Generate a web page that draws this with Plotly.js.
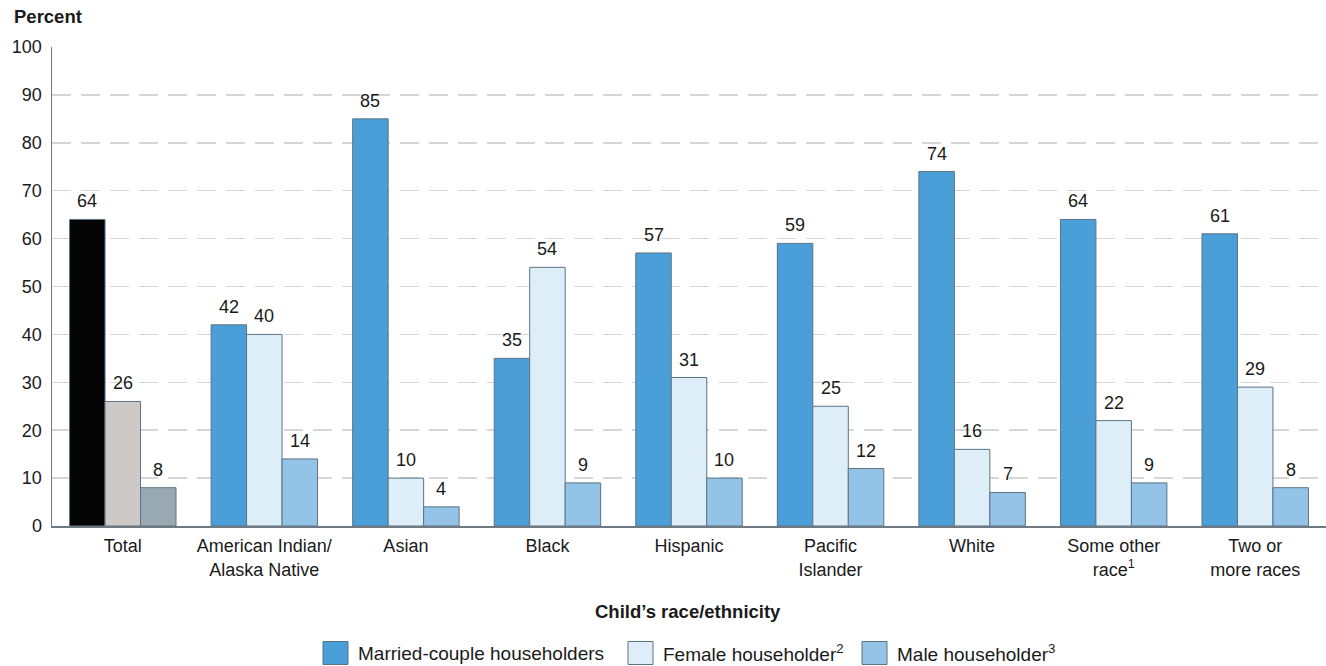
<!DOCTYPE html>
<html>
<head>
<meta charset="utf-8">
<script src="https://cdn.plot.ly/plotly-3.0.1.min.js"></script>
<style>
  html, body { margin: 0; padding: 0; background: #ffffff; }
  #chart { width: 1326px; height: 666px; }
</style>
</head>
<body>
<div id="chart"></div>
<script>
// Child's race/ethnicity groups (x axis)
const categories = [
  'Total',
  'American Indian/<br>Alaska Native',
  'Asian',
  'Black',
  'Hispanic',
  'Pacific<br>Islander',
  'White',
  'Some other<br>race<sup>1</sup>',
  'Two or<br>more races'
];

// Percent of children living with each householder type
const marriedCouple = [64, 42, 85, 35, 57, 59, 74, 64, 61];
const femaleHouseholder = [26, 40, 10, 54, 31, 25, 16, 22, 29];
const maleHouseholder = [8, 14, 4, 9, 10, 12, 7, 9, 8];

const seriesNames = [
  'Married-couple householders',
  'Female householder<sup>2</sup>',
  'Male householder<sup>3</sup>'
];

const yTicks = [0, 10, 20, 30, 40, 50, 60, 70, 80, 90, 100];

// Colours: blue family for race groups, neutral family for the Total group
const seriesColors = ['#4a9fd8', '#ddeef8', '#93c4e8'];
const totalColors = ['#050505', '#cdc9c6', '#99a9b1'];
const outline = '#5d7384';
const textColor = '#1a1a1a';
const FONT = 'Arial, "Liberation Sans", Helvetica, sans-serif';

const BARGAP = 0.248;
const barWidth = (1 - BARGAP) / 3;

const seriesValues = [marriedCouple, femaleHouseholder, maleHouseholder];

const traces = seriesValues.map((vals, k) => ({
  type: 'bar',
  name: seriesNames[k],
  x: categories,
  y: vals,
  marker: {
    color: vals.map((v, i) => (i === 0 ? totalColors[k] : seriesColors[k])),
    line: { color: outline, width: 1 }
  },
  showlegend: false,
  hoverinfo: 'x+y'
}));

// Value labels above each bar
const annotations = [];
seriesValues.forEach((vals, k) => {
  vals.forEach((v, i) => {
    annotations.push({
      x: i + (k - 1) * barWidth,
      y: v,
      xref: 'x',
      yref: 'y',
      text: String(v),
      showarrow: false,
      yanchor: 'bottom',
      xanchor: 'center',
      yshift: 6,
      font: { family: FONT, size: 18, color: textColor }
    });
  });
});

// Plot area geometry in pixels, used to place the caption and legend
const plotLeft = 52, plotW = 1274, plotTop = 47, plotH = 479;
const px2x = (px) => (px - plotLeft) / plotW;
const py2y = (py) => (plotTop + plotH - py) / plotH;

// Y axis caption at the top-left
annotations.push({
  xref: 'paper', yref: 'paper',
  x: px2x(12), y: py2y(16),
  xanchor: 'left', yanchor: 'middle',
  text: '<b>Percent</b>',
  showarrow: false,
  font: { family: FONT, size: 18.5, color: textColor }
});

// Custom legend: square swatches with labels
const legendStarts = [323, 628, 862];   // swatch left edges in px
const swatchW = 25, swatchH = 23;
const legendMid = 653;
const shapes = [];
legendStarts.forEach((lx, k) => {
  shapes.push({
    type: 'rect', xref: 'paper', yref: 'paper',
    x0: px2x(lx), x1: px2x(lx + swatchW),
    y0: py2y(legendMid - swatchH / 2), y1: py2y(legendMid + swatchH / 2),
    fillcolor: seriesColors[k],
    line: { color: outline, width: 1 }
  });
  annotations.push({
    xref: 'paper', yref: 'paper',
    x: px2x(lx + swatchW + 8), y: py2y(legendMid),
    xanchor: 'left', yanchor: 'middle',
    text: seriesNames[k],
    showarrow: false,
    font: { family: FONT, size: 19, color: textColor }
  });
});

// X axis title
annotations.push({
  xref: 'paper', yref: 'paper',
  x: px2x(688), y: py2y(611),
  xanchor: 'center', yanchor: 'middle',
  text: '<b>Child\u2019s race/ethnicity</b>',
  showarrow: false,
  font: { family: FONT, size: 18.5, color: textColor }
});

const layout = {
  width: 1326,
  height: 666,
  margin: { l: plotLeft, r: 0, t: plotTop, b: 666 - plotTop - plotH },
  paper_bgcolor: '#ffffff',
  plot_bgcolor: '#ffffff',
  barmode: 'group',
  bargap: BARGAP,
  bargroupgap: 0,
  font: { family: FONT, size: 18, color: textColor },
  xaxis: {
    type: 'category',
    range: [-0.5, 8.5],
    showgrid: false,
    showline: true,
    linecolor: '#6e7982',
    linewidth: 1.5,
    ticks: '',
    tickfont: { family: FONT, size: 18, color: textColor },
    ticklabelstandoff: 3,
    fixedrange: true
  },
  yaxis: {
    range: [0, 100],
    tickvals: yTicks,
    ticktext: yTicks.map(String),
    showgrid: true,
    gridcolor: '#d6d6d6',
    gridwidth: 1.5,
    griddash: '19px,10px',
    zeroline: false,
    showline: true,
    linecolor: '#6e7982',
    linewidth: 1.5,
    ticks: '',
    ticklabelstandoff: 5,
    tickfont: { family: FONT, size: 18, color: textColor },
    fixedrange: true
  },
  annotations: annotations,
  shapes: shapes,
  showlegend: false
};

Plotly.newPlot('chart', traces, layout, { displayModeBar: false, staticPlot: true });
</script>
</body>
</html>
